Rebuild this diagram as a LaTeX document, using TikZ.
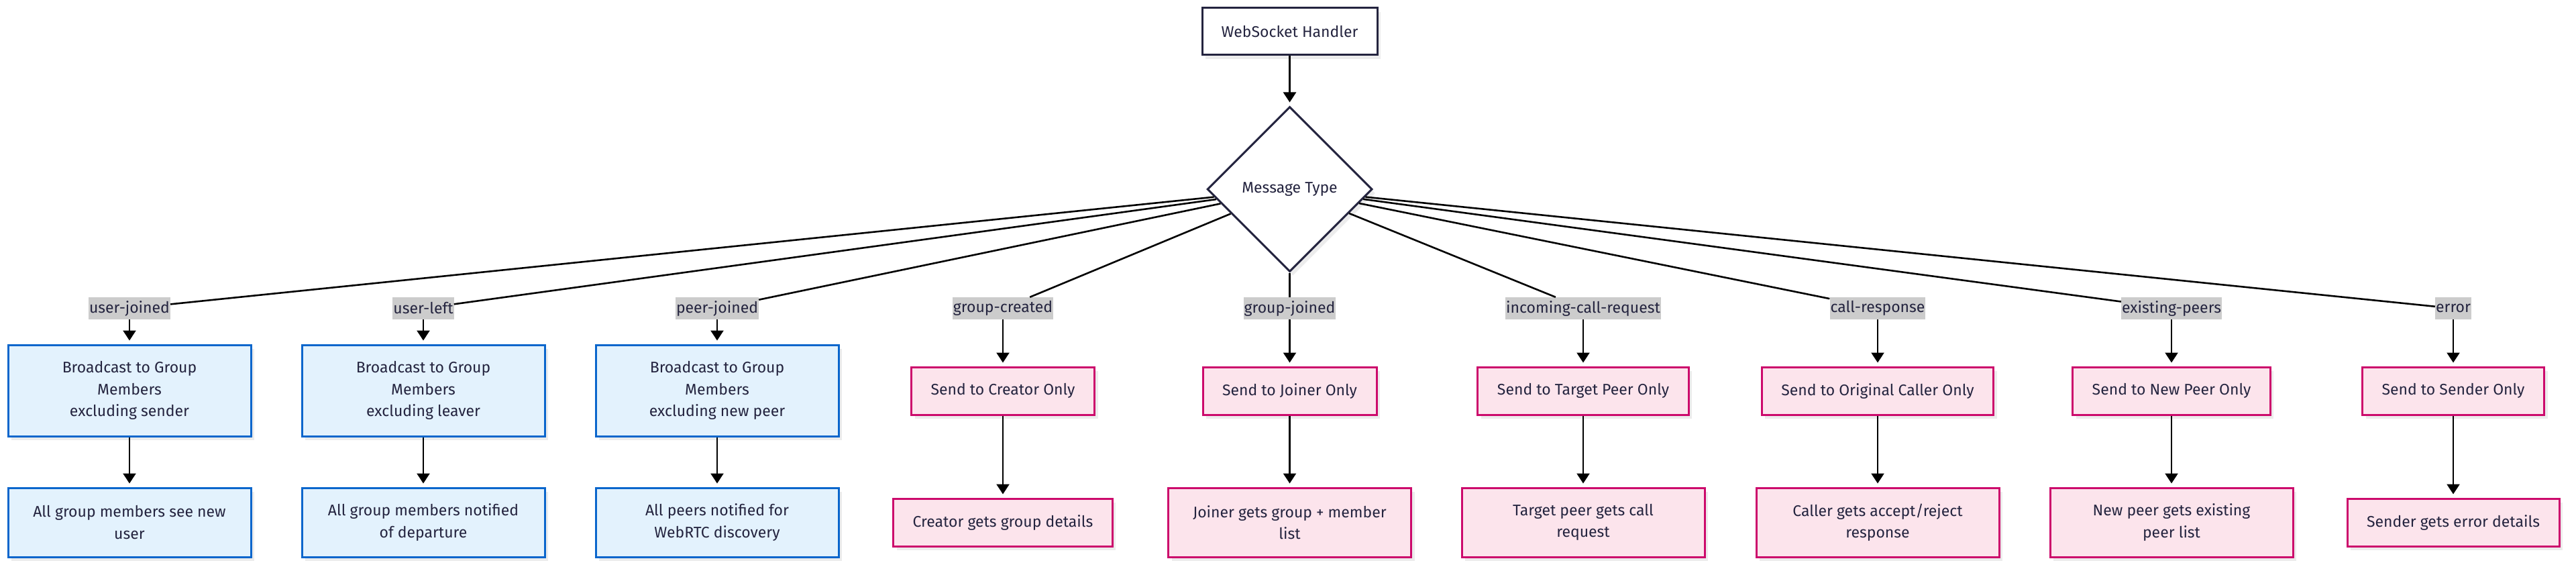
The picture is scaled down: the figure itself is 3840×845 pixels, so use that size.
\documentclass[tikz,border=0pt]{standalone}
\usepackage{fontspec}
\setmainfont{Fira Sans}
\usetikzlibrary{arrows.meta,positioning,shapes.geometric,shadows}

\definecolor{ink}{HTML}{24243F}
\definecolor{bluefill}{HTML}{E3F2FD}
\definecolor{blueline}{HTML}{0A66CC}
\definecolor{pinkfill}{HTML}{FCE4EC}
\definecolor{pinkline}{HTML}{CC0A6C}
\definecolor{lblgray}{HTML}{CCCCCC}
\definecolor{shade}{HTML}{ECECEC}

\tikzset{
  base/.style={draw=ink, line width=3pt, text=ink, align=center, inner sep=0pt,
    drop shadow={shadow xshift=5pt, shadow yshift=-6pt, fill=shade, opacity=1}},
  handler/.style={base, fill=white, minimum width=261pt, minimum height=70pt},
  decision/.style={base, diamond, aspect=1, fill=white, minimum width=246pt, minimum height=246pt},
  broadcast/.style={base, draw=blueline, fill=bluefill, minimum width=362pt},
  direct/.style={base, draw=pinkline, fill=pinkfill, inner xsep=29pt, minimum height=71pt},
  wide/.style={minimum width=362pt, minimum height=103pt},
  msglabel/.style={fill=lblgray, text=ink, inner xsep=1pt, inner ysep=0pt, minimum height=33pt},
  link/.style={line width=2.6pt},
  flow/.style={link, ->, shorten >=5pt}
}

\begin{document}
\begin{tikzpicture}[x=1pt, y=-1pt, >={Triangle[length=15pt,width=19pt]},
  every node/.append style={font=\fontsize{23}{32.5}\selectfont}]
  \useasboundingbox (0,0) rectangle (3840,845);
  % entry point
  \node[handler] (ws) at (1922.5,47) {WebSocket Handler};
  \node[decision] (msg) at (1922.5,282) {Message Type};
  % message types
  \node[msglabel] (ujoin) at (193,459.5) {user-joined};
  \node[msglabel] (uleft) at (631,459.5) {user-left};
  \node[msglabel] (pjoin) at (1069,459.5) {peer-joined};
  \node[msglabel] (gcreate) at (1495,459.5) {group-created};
  \node[msglabel] (gjoin) at (1922.5,459.5) {group-joined};
  \node[msglabel] (callreq) at (2360,459.5) {incoming-call-request};
  \node[msglabel] (callres) at (2799,459.5) {call-response};
  \node[msglabel] (expeers) at (3237,459.5) {existing-peers};
  \node[msglabel] (err) at (3657,459.5) {error};
  % broadcast targets
  \node[broadcast, minimum height=136pt] (bcjoin) at (193,582) {Broadcast to Group\\Members\\excluding sender};
  \node[broadcast, minimum height=136pt] (bcleft) at (631,582) {Broadcast to Group\\Members\\excluding leaver};
  \node[broadcast, minimum height=136pt] (bcpeer) at (1069,582) {Broadcast to Group\\Members\\excluding new peer};
  % direct targets
  \node[direct] (tocreator) at (1495,582.5) {Send to Creator Only};
  \node[direct] (tojoiner) at (1922.5,582.5) {Send to Joiner Only};
  \node[direct] (totarget) at (2360,582.5) {Send to Target Peer Only};
  \node[direct] (tocaller) at (2799,582.5) {Send to Original Caller Only};
  \node[direct] (tonewpeer) at (3237,582.5) {Send to New Peer Only};
  \node[direct] (tosender) at (3657,582.5) {Send to Sender Only};
  % outcomes
  \node[broadcast, minimum height=103pt] (seejoin) at (193,778.5) {All group members see new\\user};
  \node[broadcast, minimum height=103pt] (seeleft) at (631,778.5) {All group members notified\\of departure};
  \node[broadcast, minimum height=103pt] (seepeer) at (1069,778.5) {All peers notified for\\WebRTC discovery};
  \node[direct] (creatorgets) at (1495,778.5) {Creator gets group details};
  \node[direct, wide] (joinergets) at (1922.5,778.5) {Joiner gets group + member\\list};
  \node[direct, wide] (targetgets) at (2360,778.5) {Target peer gets call\\request};
  \node[direct, wide] (callergets) at (2799,778.5) {Caller gets accept/reject\\response};
  \node[direct, wide] (newpeergets) at (3237,778.5) {New peer gets existing\\peer list};
  \node[direct] (sendergets) at (3657,778.5) {Sender gets error details};

  % handler to switch
  \draw[flow] (ws) -- (msg);
  % switch to message types
  \draw[link] (msg) -- (ujoin);
  \draw[link] (msg) -- (uleft);
  \draw[link] (msg) -- (pjoin);
  \draw[link] (msg) -- (gcreate);
  \draw[link] (msg) -- (gjoin);
  \draw[link] (msg) -- (callreq);
  \draw[link] (msg) -- (callres);
  \draw[link] (msg) -- (expeers);
  \draw[link] (msg) -- (err);
  % types to targets
  \draw[flow] (ujoin) -- (bcjoin);
  \draw[flow] (uleft) -- (bcleft);
  \draw[flow] (pjoin) -- (bcpeer);
  \draw[flow] (gcreate) -- (tocreator);
  \draw[flow] (gjoin) -- (tojoiner);
  \draw[flow] (callreq) -- (totarget);
  \draw[flow] (callres) -- (tocaller);
  \draw[flow] (expeers) -- (tonewpeer);
  \draw[flow] (err) -- (tosender);
  % targets to outcomes
  \draw[flow] (bcjoin) -- (seejoin);
  \draw[flow] (bcleft) -- (seeleft);
  \draw[flow] (bcpeer) -- (seepeer);
  \draw[flow] (tocreator) -- (creatorgets);
  \draw[flow] (tojoiner) -- (joinergets);
  \draw[flow] (totarget) -- (targetgets);
  \draw[flow] (tocaller) -- (callergets);
  \draw[flow] (tonewpeer) -- (newpeergets);
  \draw[flow] (tosender) -- (sendergets);
\end{tikzpicture}
\end{document}
